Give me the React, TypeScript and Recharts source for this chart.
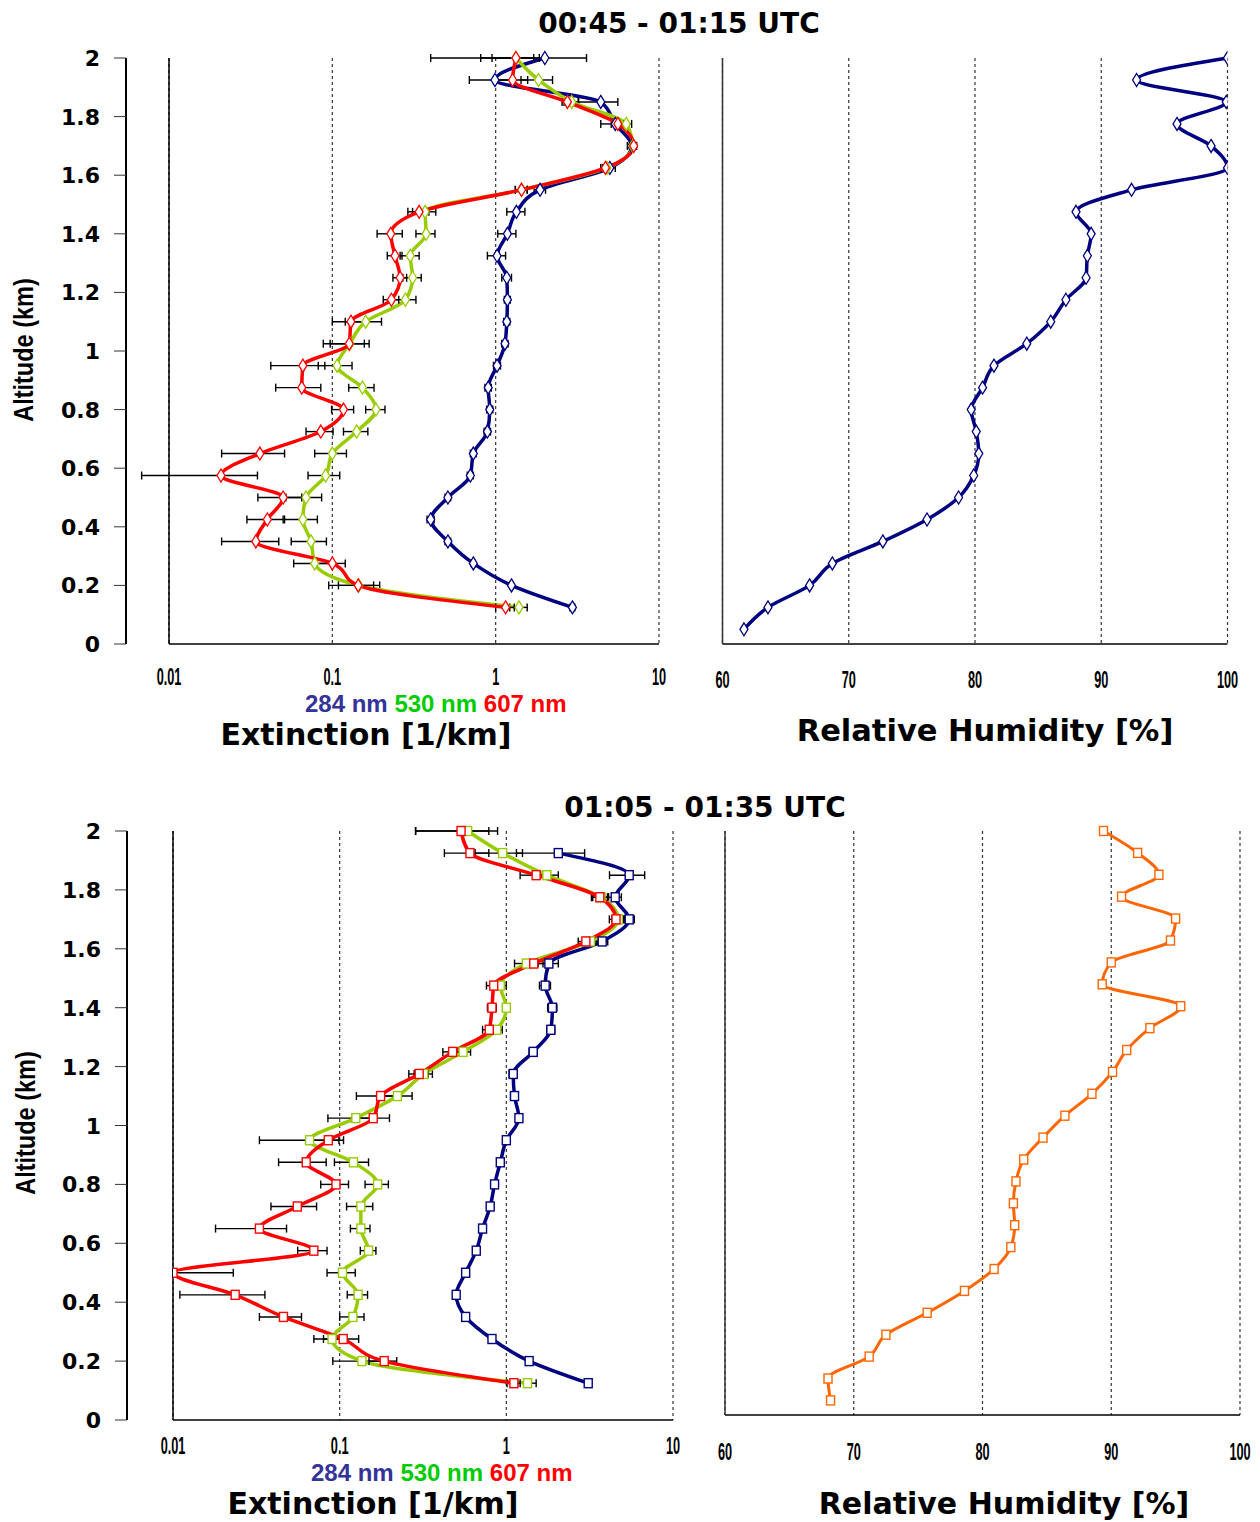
import React from "react";
import {
  ComposedChart,
  Line,
  XAxis,
  YAxis,
  CartesianGrid,
  ErrorBar,
  Legend,
} from "recharts";

// Altitude bins of the lidar profiles, km (top -> bottom)
const ALT = [
  2.0, 1.925, 1.85, 1.775, 1.7, 1.625, 1.55, 1.475, 1.4, 1.325, 1.25, 1.175, 1.1,
  1.025, 0.95, 0.875, 0.8, 0.725, 0.65, 0.575, 0.5, 0.425, 0.35, 0.275, 0.2, 0.125,
];
// Humidity profiles have one extra level near the ground
const ALT_RH = [
  2.0, 1.925, 1.85, 1.775, 1.7, 1.625, 1.55, 1.475, 1.4, 1.325, 1.25, 1.175, 1.1,
  1.025, 0.95, 0.875, 0.8, 0.725, 0.65, 0.575, 0.5, 0.425, 0.35, 0.275, 0.2, 0.125, 0.05,
];

const ALT_TICKS = [0, 0.2, 0.4, 0.6, 0.8, 1, 1.2, 1.4, 1.6, 1.8, 2];
const EXT_TICKS = [0.01, 0.1, 1, 10];
const RH_TICKS = [60, 70, 80, 90, 100];

const TITLES = ["00:45 - 01:15 UTC", "01:05 - 01:35 UTC"];
const SERIES = ["284 nm", "530 nm", "607 nm"];
const LINE_COLORS = ["#000080", "#99cc00", "#ff0000"];
const LEGEND_COLORS = ["#333399", "#00cc00", "#ff0000"];
const RH_COLORS = ["#000080", "#ff6600"];

// ---- 00:45 - 01:15 UTC : extinction [1/km]
const TOP_284 = [2.0, 0.99, 4.4, 5.4, 6.8, 5.0, 1.87, 1.34, 1.18, 1.02, 1.17, 1.18, 1.17, 1.14, 1.02, 0.9, 0.92, 0.89, 0.73, 0.7, 0.51, 0.4, 0.51, 0.73, 1.25, 2.95];
const TOP_530 = [1.33, 1.83, 2.92, 6.3, 6.9, 4.8, 1.44, 0.37, 0.375, 0.3, 0.31, 0.28, 0.16, 0.128, 0.107, 0.153, 0.185, 0.141, 0.1, 0.091, 0.069, 0.066, 0.074, 0.078, 0.145, 1.39];
const TOP_607 = [1.33, 1.27, 2.75, 5.6, 7.0, 4.7, 1.44, 0.34, 0.228, 0.242, 0.26, 0.23, 0.13, 0.127, 0.066, 0.065, 0.117, 0.085, 0.036, 0.0208, 0.05, 0.04, 0.034, 0.1, 0.144, 1.15];
const TOP_284_ERR = [1.6, 0.3, 1.2, 1.0, 0.4, 0.4, 0.15, 0.17, 0.15, 0.13, 0.08, 0.05, 0.05, 0.05, 0.05, 0.04, 0.04, 0.04, 0.03, 0.03, 0.02, 0.02, 0.02, 0.02, 0.03, 0.1];
const TOP_530_ERR = [0.52, 0.4, 0.3, 0.5, 0.3, 0.3, 0.12, 0.06, 0.05, 0.04, 0.04, 0.045, 0.04, 0.04, 0.025, 0.027, 0.025, 0.024, 0.022, 0.02, 0.017, 0.015, 0.018, 0.02, 0.05, 0.17];
const TOP_607_ERR = [0.38, 0.3, 0.2, 0.5, 0.3, 0.3, 0.12, 0.05, 0.04, 0.025, 0.025, 0.025, 0.03, 0.03, 0.024, 0.02, 0.018, 0.016, 0.015, 0.014, 0.015, 0.01, 0.013, 0.02, 0.035, 0.15];
const TOP_RH = [100, 92.8, 99.9, 96.0, 98.7, 100, 92.4, 88.0, 89.2, 88.9, 88.8, 87.2, 86.0, 84.1, 81.5, 80.6, 79.7, 80.1, 80.3, 79.9, 78.7, 76.2, 72.7, 68.7, 66.9, 63.6, 61.7];

// ---- 01:05 - 01:35 UTC
const BOT_284 = [null, 2.05, 5.46, 4.5, 5.46, 3.76, 1.8, 1.71, 1.89, 1.85, 1.45, 1.1, 1.12, 1.19, 1.0, 0.92, 0.85, 0.8, 0.72, 0.66, 0.57, 0.5, 0.57, 0.82, 1.37, 3.1];
const BOT_530 = [0.586, 0.95, 1.75, 3.7, 4.7, 3.2, 1.32, 0.92, 1.0, 0.875, 0.55, 0.32, 0.222, 0.125, 0.066, 0.121, 0.169, 0.134, 0.134, 0.149, 0.104, 0.129, 0.12, 0.09, 0.136, 1.34];
const BOT_607 = [0.535, 0.605, 1.51, 3.64, 4.55, 3.0, 1.46, 0.84, 0.82, 0.79, 0.476, 0.3, 0.176, 0.159, 0.0855, 0.063, 0.095, 0.0557, 0.033, 0.07, 0.01, 0.0236, 0.046, 0.105, 0.185, 1.11];
const BOT_284_ERR = [null, 0.9, 1.3, 0.4, 0.4, 0.3, 0.25, 0.13, 0.12, 0.1, 0.08, 0.06, 0.06, 0.05, 0.04, 0.03, 0.03, 0.03, 0.03, 0.03, 0.03, 0.02, 0.02, 0.03, 0.04, 0.05];
const BOT_530_ERR = [0.3, 0.3, 0.3, 0.4, 0.4, 0.3, 0.2, 0.08, 0.05, 0.07, 0.06, 0.04, 0.05, 0.04, 0.033, 0.028, 0.027, 0.024, 0.018, 0.016, 0.02, 0.018, 0.02, 0.02, 0.045, 0.17];
const BOT_607_ERR = [0.25, 0.18, 0.3, 0.4, 0.4, 0.3, 0.2, 0.08, 0.05, 0.07, 0.06, 0.04, 0.05, 0.04, 0.02, 0.02, 0.018, 0.017, 0.015, 0.014, [0, 0.013], [0.0126, 0.012], 0.013, 0.025, 0.035, 0.1];
const BOT_RH = [89.4, 92.05, 93.7, 90.8, 95.0, 94.6, 90.0, 89.3, 95.4, 93.0, 91.2, 90.1, 88.5, 86.4, 84.7, 83.2, 82.6, 82.4, 82.5, 82.2, 80.9, 78.6, 75.7, 72.5, 71.2, 68.0, 68.2];

const extRows = (b, g, r, be, ge, re) =>
  ALT.map((alt, i) => ({ alt, b: b[i], g: g[i], r: r[i], be: be[i], ge: ge[i], re: re[i] }));
const rhRows = (rh) => ALT_RH.map((alt, i) => ({ alt, rh: rh[i] }));

const topExt = extRows(TOP_284, TOP_530, TOP_607, TOP_284_ERR, TOP_530_ERR, TOP_607_ERR);
const botExt = extRows(BOT_284, BOT_530, BOT_607, BOT_284_ERR, BOT_530_ERR, BOT_607_ERR);
const topRh = rhRows(TOP_RH);
const botRh = rhRows(BOT_RH);

const BOLD = "'DejaVu Sans', Verdana, sans-serif";
const ARIAL = "'Liberation Sans', Arial, sans-serif";

// hollow markers: diamonds for the first period, squares for the second
const makeDot = (shape: "diamond" | "square", stroke: string) => (props: any) => {
  const { cx, cy, index } = props;
  if (cx == null || cy == null || isNaN(cx)) return <g key={`d${index}`} />;
  if (shape === "diamond") {
    return (
      <path
        key={`d${index}`}
        d={`M${cx},${cy - 6.5}L${cx + 4},${cy}L${cx},${cy + 6.5}L${cx - 4},${cy}Z`}
        fill="#fff"
        stroke={stroke}
        strokeWidth={1.3}
      />
    );
  }
  return (
    <rect key={`d${index}`} x={cx - 4} y={cy - 4.5} width={8} height={9} fill="#fff" stroke={stroke} strokeWidth={1.4} />
  );
};

// condensed bold tick labels under the x axes
const NarrowTick = (dy: number) => (props: any) => {
  const { x, y, payload } = props;
  return (
    <g transform={`translate(${x},${y + dy})`}>
      <text textAnchor="middle" fontFamily={ARIAL} fontWeight="bold" fontSize={24} fill="#000" transform="scale(0.53,1)">
        {String(payload.value)}
      </text>
    </g>
  );
};

const AltTick = (props: any) => {
  const { x, y, payload } = props;
  const v = payload.value;
  return (
    <text x={x} y={y + 8} textAnchor="end" fontFamily={BOLD} fontWeight="bold" fontSize={22} fill="#000">
      {v === 0 ? "0" : String(Number(v.toFixed(1)))}
    </text>
  );
};

const WaveLegend = () => (
  <div style={{ fontFamily: ARIAL, fontWeight: "bold", fontSize: 24, lineHeight: "24px", whiteSpace: "nowrap" }}>
    {SERIES.map((s, i) => (
      <span key={s} style={{ color: LEGEND_COLORS[i] }}>
        {s}
        {i < SERIES.length - 1 ? " " : ""}
      </span>
    ))}
  </div>
);

function ExtChart({ rows, box, margin, outerW, innerW, xAxisH, tickDy, legendPos, shape }: any) {
  const keys = ["b", "g", "r"];
  return (
    <div style={{ position: "absolute", left: box.left, top: box.top, width: box.width, height: box.height }}>
      <ComposedChart layout="vertical" width={box.width} height={box.height} data={rows} margin={margin}>
        <CartesianGrid yAxisId="inner" horizontal={false} stroke="#333" strokeDasharray="3 3" strokeWidth={1.2} />
        <XAxis
          type="number"
          scale="log"
          domain={[0.01, 10]}
          ticks={EXT_TICKS}
          allowDataOverflow
          height={xAxisH}
          axisLine={{ stroke: "#000", strokeWidth: 1.5 }}
          tickLine={false}
          tickSize={0}
          tickMargin={0}
          tick={NarrowTick(tickDy)}
        />
        <YAxis
          yAxisId="inner"
          type="number"
          dataKey="alt"
          domain={[0, 2]}
          reversed
          ticks={ALT_TICKS}
          width={innerW}
          axisLine={{ stroke: "#000", strokeWidth: 1.5 }}
          tickLine={{ stroke: "#333" }}
          tickSize={5}
          tick={false}
        />
        <YAxis
          yAxisId="outer"
          type="number"
          dataKey="alt"
          domain={[0, 2]}
          reversed
          ticks={ALT_TICKS}
          width={outerW}
          axisLine={{ stroke: "#000", strokeWidth: 2 }}
          tickLine={{ stroke: "#333" }}
          tickSize={12}
          tickMargin={14}
          tick={AltTick}
        />
        {keys.map((k, i) => (
          <Line
            key={k}
            yAxisId="inner"
            name={SERIES[i]}
            dataKey={k}
            type="monotone"
            stroke={LINE_COLORS[i]}
            strokeWidth={3.5}
            dot={makeDot(shape, LINE_COLORS[i])}
            activeDot={false}
            isAnimationActive={false}
          >
            <ErrorBar dataKey={`${k}e`} direction="x" width={4} stroke="#000" strokeWidth={1.4} isAnimationActive={false} />
          </Line>
        ))}
        <Legend
          layout="horizontal"
          verticalAlign="middle"
          align="center"
          content={WaveLegend}
          wrapperStyle={{ left: legendPos.left, top: legendPos.top, width: "auto", height: "auto" }}
        />
      </ComposedChart>
    </div>
  );
}

function RhChart({ rows, box, margin, yW, xAxisH, tickDy, shape, color }: any) {
  return (
    <div style={{ position: "absolute", left: box.left, top: box.top, width: box.width, height: box.height }}>
      <ComposedChart layout="vertical" width={box.width} height={box.height} data={rows} margin={margin}>
        <CartesianGrid horizontal={false} stroke="#333" strokeDasharray="3 3" strokeWidth={1.2} />
        <XAxis
          type="number"
          domain={[60, 100]}
          ticks={RH_TICKS}
          allowDataOverflow
          height={xAxisH}
          axisLine={{ stroke: "#000", strokeWidth: 1.5 }}
          tickLine={false}
          tickSize={0}
          tickMargin={0}
          tick={NarrowTick(tickDy)}
        />
        <YAxis
          type="number"
          dataKey="alt"
          domain={[0, 2]}
          reversed
          ticks={ALT_TICKS}
          width={yW}
          axisLine={{ stroke: "#333", strokeWidth: 1.5 }}
          tickLine={{ stroke: "#333" }}
          tickSize={5}
          tick={false}
        />
        <Line
          name="RH"
          dataKey="rh"
          type="monotone"
          stroke={color}
          strokeWidth={shape === "diamond" ? 3.5 : 3}
          dot={makeDot(shape, color)}
          activeDot={false}
          isAnimationActive={false}
        />
      </ComposedChart>
    </div>
  );
}

const Overlay = () => (
  <svg width={1260} height={1522} style={{ position: "absolute", left: 0, top: 0, pointerEvents: "none" }}>
    <g fontFamily={BOLD} fontWeight="bold" fill="#000">
      <text x={679} y={33} fontSize={28} textAnchor="middle">{TITLES[0]}</text>
      <text x={705} y={817} fontSize={28} textAnchor="middle">{TITLES[1]}</text>
      <text x={366} y={745} fontSize={30} textAnchor="middle">Extinction [1/km]</text>
      <text x={985} y={741} fontSize={30.5} textAnchor="middle">Relative Humidity [%]</text>
      <text x={373} y={1514} fontSize={30} textAnchor="middle">Extinction [1/km]</text>
      <text x={1004} y={1514} fontSize={30} textAnchor="middle">Relative Humidity [%]</text>
    </g>
    <g fontFamily={ARIAL} fontWeight="bold" fontSize={28} fill="#000">
      <text transform="translate(33,350) rotate(-90) scale(0.84,1)" textAnchor="middle">Altitude (km)</text>
      <text transform="translate(35,1123) rotate(-90) scale(0.84,1)" textAnchor="middle">Altitude (km)</text>
    </g>
  </svg>
);

export default function App() {
  return (
    <div style={{ position: "absolute", left: 0, top: 0, width: 1260, height: 1522, background: "#fff", overflow: "hidden" }}>
      <ExtChart
        rows={topExt}
        box={{ left: 0, top: 0, width: 680, height: 760 }}
        margin={{ top: 58, right: 21, left: 20, bottom: 0 }}
        outerW={106}
        innerW={43}
        xAxisH={116}
        tickDy={41}
        legendPos={{ left: 305, top: 692 }}
        shape="diamond"
      />
      <RhChart
        rows={topRh}
        box={{ left: 680, top: 0, width: 580, height: 760 }}
        margin={{ top: 58, right: 32.5, left: 30, bottom: 0 }}
        yW={12.5}
        xAxisH={116}
        tickDy={44}
        shape="diamond"
        color={RH_COLORS[0]}
      />
      <ExtChart
        rows={botExt}
        box={{ left: 0, top: 780, width: 700, height: 742 }}
        margin={{ top: 51, right: 27, left: 20, bottom: 0 }}
        outerW={107}
        innerW={46}
        xAxisH={102}
        tickDy={34}
        legendPos={{ left: 311, top: 681 }}
        shape="square"
      />
      <RhChart
        rows={botRh}
        box={{ left: 700, top: 780, width: 560, height: 742 }}
        margin={{ top: 51, right: 20, left: 13, bottom: 0 }}
        yW={12}
        xAxisH={107}
        tickDy={45}
        shape="square"
        color={RH_COLORS[1]}
      />
      <Overlay />
    </div>
  );
}
